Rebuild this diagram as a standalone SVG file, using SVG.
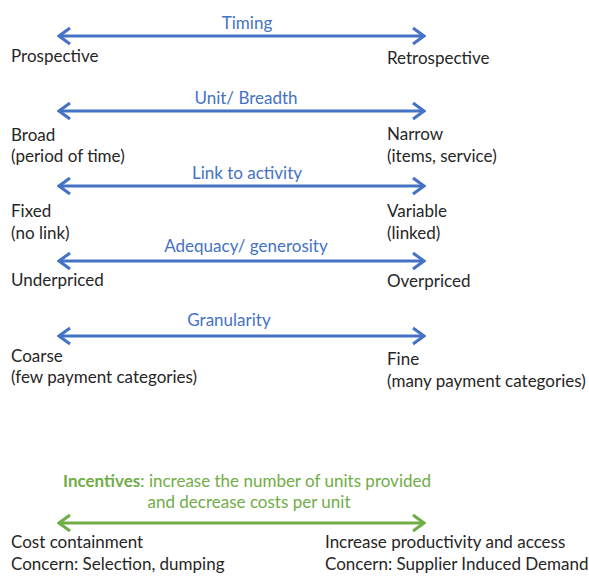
<svg xmlns="http://www.w3.org/2000/svg" width="589" height="576" viewBox="0 0 589 576">
<defs>
<marker id="hb" viewBox="0 0 16 20" refX="14" refY="10" markerWidth="16" markerHeight="20" markerUnits="userSpaceOnUse" orient="auto-start-reverse">
<path d="M3 2 L14 10 L3 18" fill="none" stroke="#4472C4" stroke-width="3"/>
</marker>
<marker id="hg" viewBox="0 0 16 20" refX="14" refY="10" markerWidth="16" markerHeight="20" markerUnits="userSpaceOnUse" orient="auto-start-reverse">
<path d="M3 2 L14 10 L3 18" fill="none" stroke="#70AD47" stroke-width="3"/>
</marker>
<style>
text{font-family:Lato,"Open Sans","Liberation Sans",sans-serif;font-size:17px;fill:#262626}
.b{fill:#4472C4}
.g{fill:#70AD47}
.bold{font-weight:bold}
.m{text-anchor:middle}
.ab{stroke:#4472C4;stroke-width:3;fill:none;marker-start:url(#hb);marker-end:url(#hb)}
.ag{stroke:#70AD47;stroke-width:3;fill:none;marker-start:url(#hg);marker-end:url(#hg)}
</style>
</defs>
<g id="connectors">
<line class="ab" x1="59" y1="36" x2="424" y2="36"/>
<line class="ab" x1="59" y1="111" x2="424" y2="111"/>
<line class="ab" x1="59" y1="186" x2="424" y2="186"/>
<line class="ab" x1="59" y1="261" x2="424" y2="261"/>
<line class="ab" x1="59" y1="336" x2="424" y2="336"/>
<line class="ag" x1="59" y1="523" x2="424" y2="523"/>
</g>
<g id="timing">
<text class="b m" x="247" y="29">Timing</text>
<text x="11" y="62">Prospective</text>
<text x="387" y="64">Retrospective</text>
</g>
<g id="unit">
<text class="b m" x="246" y="104">Unit/ Breadth</text>
<text x="11" y="141">Broad</text>
<text x="11" y="162">(period of time)</text>
<text x="387" y="140">Narrow</text>
<text x="387" y="162">(items, service)</text>
</g>
<g id="link">
<text class="b m" x="247" y="179">Link to activity</text>
<text x="11" y="217">Fixed</text>
<text x="11" y="239">(no link)</text>
<text x="387" y="217">Variable</text>
<text x="387" y="239">(linked)</text>
</g>
<g id="adequacy">
<text class="b m" x="246" y="252">Adequacy/ generosity</text>
<text x="11" y="286">Underpriced</text>
<text x="387" y="287">Overpriced</text>
</g>
<g id="granularity">
<text class="b m" x="229" y="326">Granularity</text>
<text x="11" y="362">Coarse</text>
<text x="11" y="383">(few payment categories)</text>
<text x="387" y="365">Fine</text>
<text x="387" y="387">(many payment categories)</text>
</g>
<g id="incentives">
<text class="g m" x="247" y="487"><tspan class="g bold">Incentives</tspan>: increase the number of units provided</text>
<text class="g m" x="249" y="508">and decrease costs per unit</text>
<text x="11" y="548">Cost containment</text>
<text x="11" y="570">Concern: Selection, dumping</text>
<text x="325" y="548">Increase productivity and access</text>
<text x="325" y="570">Concern: Supplier Induced Demand</text>
</g>
</svg>
